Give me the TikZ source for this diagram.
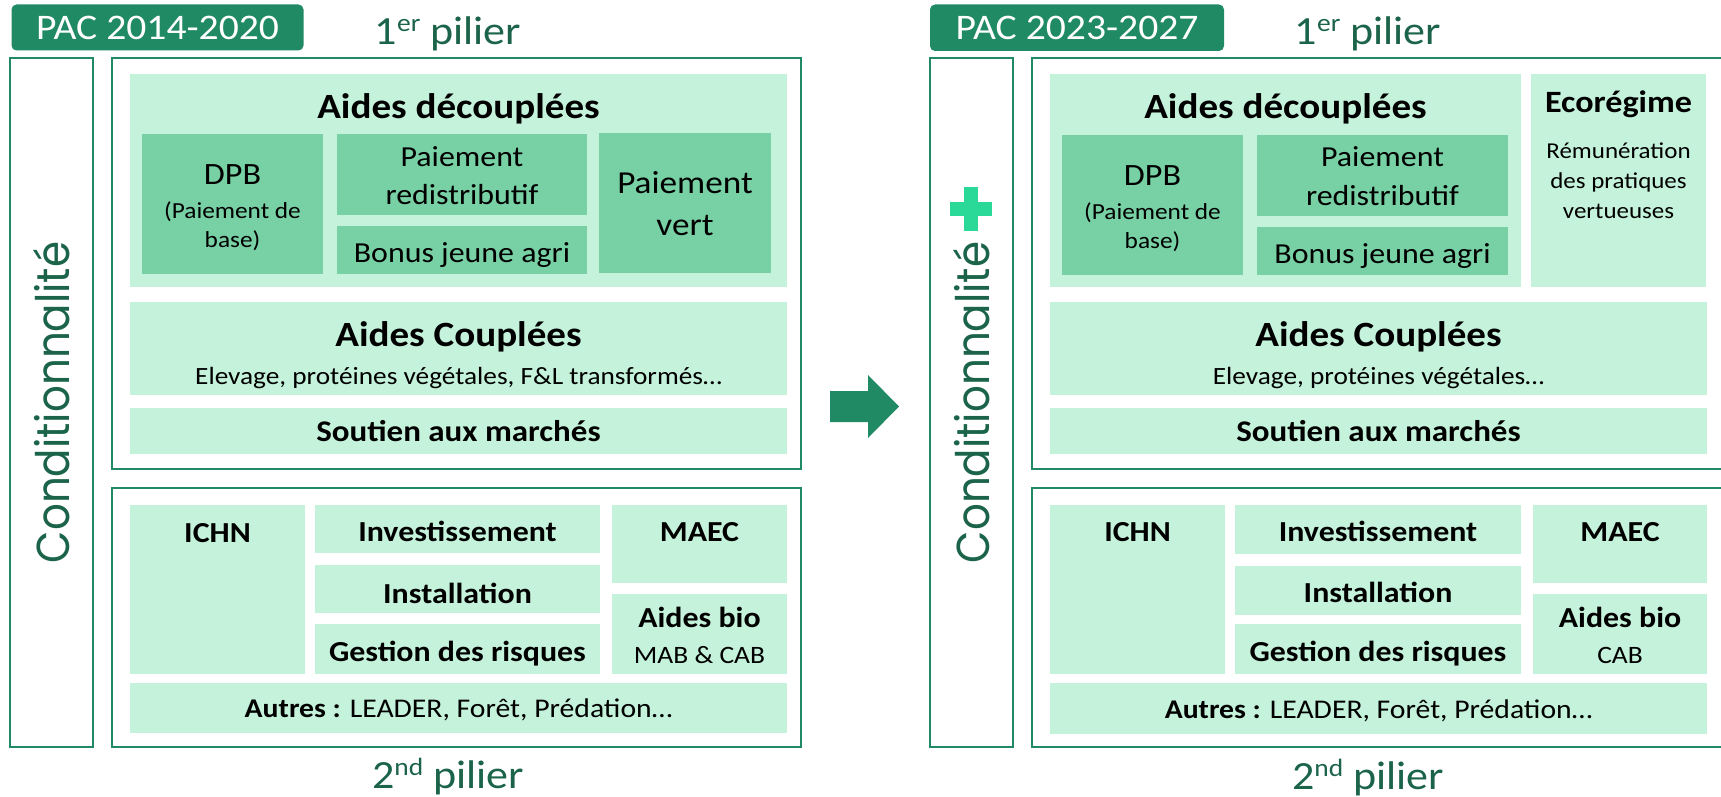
\documentclass[tikz,border=0pt]{standalone}
\usepackage{fontspec}
\setmainfont{Carlito}[FakeStretch=1.1]
\newfontfamily\condfont{Poppins}
\definecolor{dg}{RGB}{32,138,101}
\definecolor{tg}{RGB}{27,100,74}
\definecolor{lg}{RGB}{196,242,218}
\definecolor{mg}{RGB}{120,208,165}
\definecolor{pg}{RGB}{42,216,152}
\newcommand{\fsz}[2]{\fontsize{#1}{#2}\selectfont}
\newcommand{\bx}[7]{%
  \pgfmathsetmacro{\boxw}{#4-#2}%
  \pgfmathsetmacro{\boxh}{#5-#3}%
  \node[#6, minimum width=\boxw pt, minimum height=\boxh pt, anchor=north west] (#1) at (#2,#3) {#7};%
}
\tikzset{
  frame/.style={draw=dg, line width=2.5pt, rectangle, inner sep=0pt, outer sep=0pt},
  light/.style={fill=lg, rectangle, inner sep=0pt, outer sep=0pt},
  mid/.style={fill=mg, rectangle, inner sep=0pt, outer sep=0pt},
  badge/.style={fill=dg, rectangle, rounded corners=5pt, inner sep=0pt, outer sep=0pt, text=white, font=\fsz{36}{40}},
  t/.style={anchor=base, inner sep=0pt, text=black},
  bt/.style={t, font=\bfseries\fsz{29}{34}},
  title/.style={t, font=\bfseries\fsz{35.5}{40}},
  mt/.style={t, font=\fsz{29}{34}},
  st/.style={t, font=\fsz{23}{28}},
  pil/.style={anchor=base, inner sep=0pt, text=tg, font=\fsz{40}{44}},
  cond/.style={rotate=90, inner sep=0pt, text=tg, font=\condfont\fsz{42}{48}}
}
\begin{document}
\begin{tikzpicture}[x=1pt,y=-1pt]
\useasboundingbox (0,0) rectangle (1721,797);
\clip (0,0) rectangle (1721,797);
\fill[white] (0,0) rectangle (1721,797);

% ---------------- LEFT : PAC 2014-2020 ----------------
\bx{badgeL}{11.5}{4.5}{303.5}{50.5}{badge}{PAC 2014-2020}
\node[pil] (p1L) at (448,45) {1\raisebox{13pt}{\fsz{25}{25}er} pilier};
\node[pil] (p2L) at (448,788) {2\raisebox{13pt}{\fsz{25}{25}nd} pilier};

\bx{condL}{10}{58}{93}{747}{frame}{}
\node[cond] (condLT) at (condL.center) {\scalebox{1}[1.1]{Conditionnalité}};

\bx{pil1L}{112}{58}{801}{469}{frame}{}
\bx{pil2L}{112}{488}{801}{747}{frame}{}

\bx{adL}{130}{74}{787}{287}{light}{}
\node[title] (adLT) at (458.5,119) {Aides découplées};
\bx{dpbL}{142}{134}{323}{274}{mid}{}
\node[t, font=\fsz{31}{34}] (dpbL1) at (232.5,184) {DPB};
\node[st] (dpbL2) at (232.5,218) {(Paiement de};
\node[st] (dpbL3) at (232.5,247) {base)};
\bx{prL}{337}{134}{587}{215}{mid}{}
\node[mt] (prL1) at (462,166) {Paiement};
\node[mt] (prL2) at (462,204) {redistributif};
\bx{bonL}{337}{226}{587}{274}{mid}{}
\node[mt] (bonL1) at (462,262) {Bonus jeune agri};
\bx{pvL}{599}{133}{771}{273}{mid}{}
\node[t, font=\fsz{32}{34}] (pvL1) at (685,193) {Paiement};
\node[t, font=\fsz{32}{34}] (pvL2) at (685,235) {vert};

\bx{acL}{130}{302}{787}{395}{light}{}
\node[title] (acLT) at (458.5,346) {Aides Couplées};
\node[t, font=\fsz{24.8}{30}] (acLS) at (458.5,384) {Elevage, protéines végétales, F\&L transformés…};
\bx{soL}{130}{408}{787}{454}{light}{}
\node[t, font=\bfseries\fsz{30}{34}] (soLT) at (458.5,441) {Soutien aux marchés};

\bx{ichnL}{130}{505}{305}{674}{light}{}
\node[bt] (ichnLT) at (217.5,542) {ICHN};
\bx{invL}{315}{505}{600}{553}{light}{}
\node[bt] (invLT) at (457.5,541) {Investissement};
\bx{instL}{315}{565}{600}{613}{light}{}
\node[bt] (instLT) at (457.5,603) {Installation};
\bx{gesL}{315}{624}{600}{674}{light}{}
\node[bt] (gesLT) at (457.5,661) {Gestion des risques};
\bx{maecL}{612}{505}{787}{583}{light}{}
\node[bt] (maecLT) at (699.5,541) {MAEC};
\bx{bioL}{612}{594}{787}{674}{light}{}
\node[bt] (bioLT) at (699.5,627) {Aides bio};
\node[t, font=\fsz{25}{30}] (bioLS) at (699.5,663) {MAB \& CAB};
\bx{autL}{130}{683}{787}{733}{light}{}
\node[t, font=\fsz{27}{30}] (autLT) at (458.5,717) {\textbf{Autres :} LEADER, Forêt, Prédation…};

% ---------------- ARROW ----------------
\fill[dg] (830,391) -- (868,391) -- (868,375) -- (899,406.5) -- (868,438) -- (868,422) -- (830,422) -- cycle;

% ---------------- RIGHT : PAC 2023-2027 ----------------
\bx{badgeR}{930}{4.5}{1224}{51}{badge}{PAC 2023-2027}
\node[pil] (p1R) at (1368,45) {1\raisebox{13pt}{\fsz{25}{25}er} pilier};
\node[pil] (p2R) at (1368,789) {2\raisebox{13pt}{\fsz{25}{25}nd} pilier};

\bx{condR}{930}{58}{1013}{747}{frame}{}
\node[cond] (condRT) at (condR.center) {\scalebox{1}[1.1]{Conditionnalité}};
\fill[pg] (964,187) rectangle (978,231);
\fill[pg] (950,202) rectangle (992,216);

\bx{pil1R}{1032}{58}{1730}{469}{frame}{}
\bx{pil2R}{1032}{488}{1730}{747}{frame}{}

\bx{adR}{1050}{74}{1521}{287}{light}{}
\node[title] (adRT) at (1285.5,119) {Aides découplées};
\bx{dpbR}{1062}{135}{1243}{275}{mid}{}
\node[t, font=\fsz{31}{34}] (dpbR1) at (1152.5,185) {DPB};
\node[st] (dpbR2) at (1152.5,219) {(Paiement de};
\node[st] (dpbR3) at (1152.5,248) {base)};
\bx{prR}{1257}{135}{1508}{216}{mid}{}
\node[mt] (prR1) at (1382.5,167) {Paiement};
\node[mt] (prR2) at (1382.5,205) {redistributif};
\bx{bonR}{1257}{227}{1508}{275}{mid}{}
\node[mt] (bonR1) at (1382.5,263) {Bonus jeune agri};

\bx{ecoR}{1531}{74}{1706}{287}{light}{}
\node[t, font=\bfseries\fsz{31}{34}] (ecoRT) at (1618.5,113) {Ecorégime};
\node[t, font=\fsz{22.7}{28}] (ecoR1) at (1618.5,158) {Rémunération};
\node[t, font=\fsz{22.7}{28}] (ecoR2) at (1618.5,188) {des pratiques};
\node[t, font=\fsz{22.7}{28}] (ecoR3) at (1618.5,218) {vertueuses};

\bx{acR}{1050}{302}{1707}{395}{light}{}
\node[title] (acRT) at (1378.5,346) {Aides Couplées};
\node[t, font=\fsz{24.8}{30}] (acRS) at (1378.5,384) {Elevage, protéines végétales…};
\bx{soR}{1050}{408}{1707}{454}{light}{}
\node[t, font=\bfseries\fsz{30}{34}] (soRT) at (1378.5,441) {Soutien aux marchés};

\bx{ichnR}{1050}{505}{1225}{674}{light}{}
\node[bt] (ichnRT) at (1137.5,541) {ICHN};
\bx{invR}{1235}{505}{1521}{554}{light}{}
\node[bt] (invRT) at (1378,541) {Investissement};
\bx{instR}{1235}{566}{1521}{615}{light}{}
\node[bt] (instRT) at (1378,602) {Installation};
\bx{gesR}{1235}{624}{1521}{674}{light}{}
\node[bt] (gesRT) at (1378,661) {Gestion des risques};
\bx{maecR}{1533}{505}{1707}{583}{light}{}
\node[bt] (maecRT) at (1620,541) {MAEC};
\bx{bioR}{1533}{594}{1707}{674}{light}{}
\node[bt] (bioRT) at (1620,627) {Aides bio};
\node[t, font=\fsz{25}{30}] (bioRS) at (1620,663) {CAB};
\bx{autR}{1050}{683}{1707}{734}{light}{}
\node[t, font=\fsz{27}{30}] (autRT) at (1378.5,718) {\textbf{Autres :} LEADER, Forêt, Prédation…};
\end{tikzpicture}
\end{document}
